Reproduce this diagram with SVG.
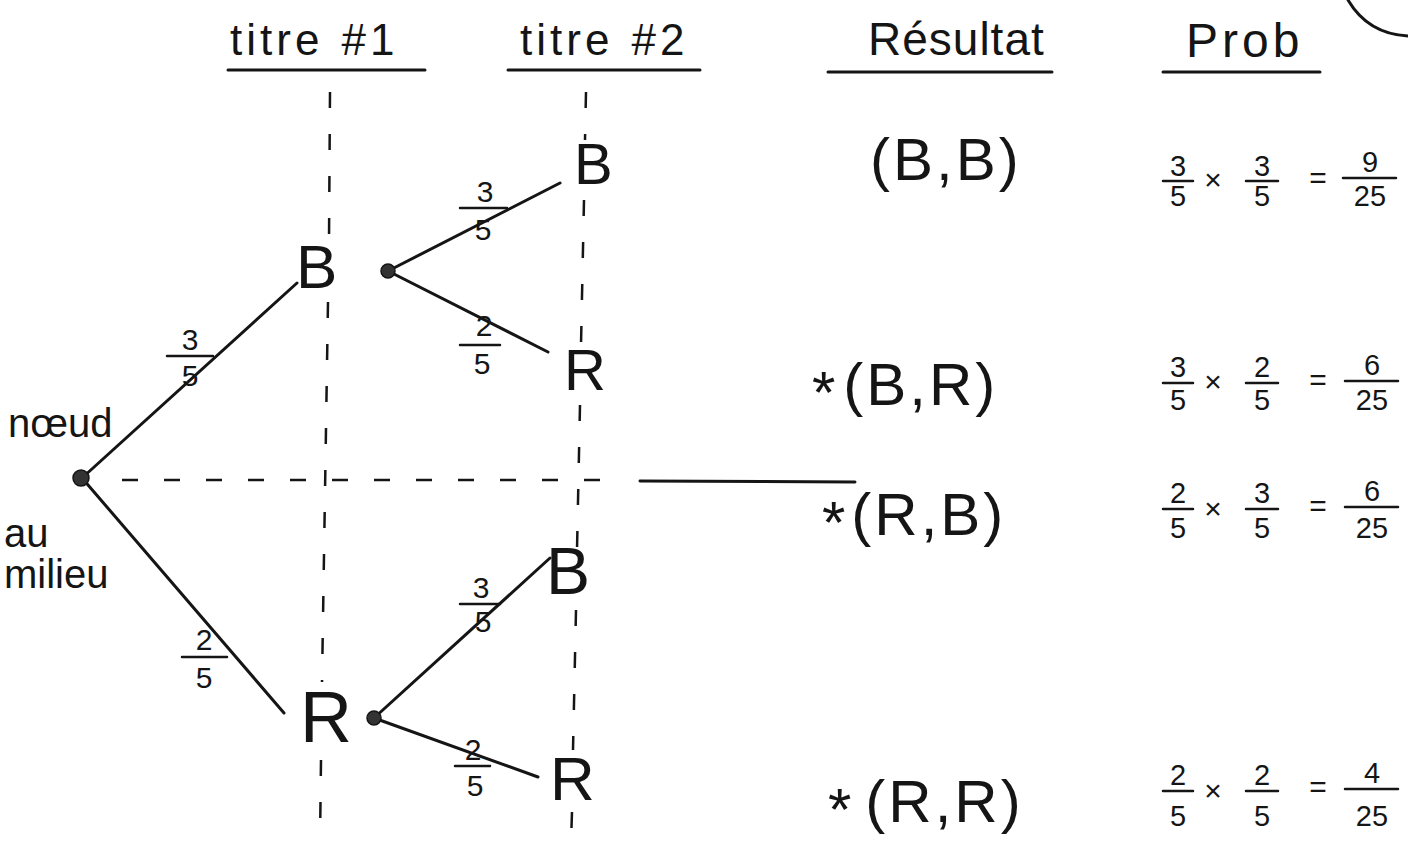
<svg xmlns="http://www.w3.org/2000/svg" width="1408" height="843" viewBox="0 0 1408 843">
<defs>
<style>
text{font-family:"Liberation Sans","DejaVu Sans",sans-serif;fill:#151515}
.hd{font-size:44px;letter-spacing:4px}
.nd{font-size:62px}
.res{font-size:60px;letter-spacing:3px}
.star{font-size:60px}
.fr{font-size:29px;text-anchor:middle}
.op{font-size:30px;text-anchor:middle}
.bl{font-size:30px;text-anchor:middle}
.side{font-size:40px}
.ln{stroke:#151515;stroke-width:3;stroke-linecap:round;fill:none}
.fl{stroke:#151515;stroke-width:2.5;stroke-linecap:round}
.dash{stroke:#151515;stroke-width:2.5;stroke-dasharray:16 26;fill:none}
.dot{fill:#333;stroke:#151515;stroke-width:1.5}
</style>
</defs>
<rect width="1408" height="843" fill="#ffffff"/>

<g id="headers">
<text class="hd" x="230" y="55">titre <tspan dx="2">#1</tspan></text>
<line class="ln" x1="228" y1="70" x2="425" y2="70"/>
<text class="hd" x="520" y="55">titre <tspan dx="2">#2</tspan></text>
<line class="ln" x1="508" y1="70" x2="700" y2="70"/>
<text class="hd" x="868" y="55" style="font-size:46px;letter-spacing:1px">Résultat</text>
<line class="ln" x1="828" y1="72" x2="1052" y2="72"/>
<text class="hd" x="1186" y="57" style="font-size:48px;letter-spacing:4px">Prob</text>
<line class="ln" x1="1163" y1="72" x2="1320" y2="72"/>
<path class="ln" d="M1348,0 Q1368,34 1408,36"/>
</g>

<g id="guides">
<line class="dash" x1="330" y1="92" x2="329" y2="240"/>
<line class="dash" x1="328" y1="302" x2="322" y2="682"/>
<line class="dash" x1="321" y1="760" x2="320" y2="843"/>
<line class="dash" x1="586" y1="92" x2="585" y2="140"/>
<line class="dash" x1="584" y1="200" x2="581" y2="345"/>
<line class="dash" x1="580" y1="405" x2="577" y2="550"/>
<line class="dash" x1="576" y1="610" x2="573" y2="750"/>
<line class="dash" x1="572" y1="812" x2="571" y2="843"/>
<line class="dash" x1="122" y1="480" x2="610" y2="480"/>
<line class="ln" x1="640" y1="481" x2="855" y2="482"/>
</g>

<g id="connectors">
<line class="ln" x1="82" y1="478" x2="297" y2="283"/>
<line class="ln" x1="82" y1="478" x2="284" y2="713"/>
<line class="ln" x1="388" y1="271" x2="560" y2="183"/>
<line class="ln" x1="388" y1="271" x2="548" y2="352"/>
<line class="ln" x1="374" y1="718" x2="550" y2="558"/>
<line class="ln" x1="374" y1="718" x2="538" y2="777"/>
</g>

<g id="branch-labels">
<text class="bl" x="190" y="350">3</text><line class="fl" x1="167" y1="356" x2="213" y2="356"/><text class="bl" x="190" y="386">5</text>
<text class="bl" x="204" y="650">2</text><line class="fl" x1="182" y1="657" x2="227" y2="657"/><text class="bl" x="204" y="688">5</text>
<text class="bl" x="485" y="202">3</text><line class="fl" x1="460" y1="208" x2="507" y2="208"/><text class="bl" x="483" y="240">5</text>
<text class="bl" x="484" y="336">2</text><line class="fl" x1="460" y1="345" x2="500" y2="345"/><text class="bl" x="482" y="374">5</text>
<text class="bl" x="481" y="598">3</text><line class="fl" x1="460" y1="604" x2="500" y2="604"/><text class="bl" x="483" y="632">5</text>
<text class="bl" x="473" y="760">2</text><line class="fl" x1="455" y1="766" x2="490" y2="766"/><text class="bl" x="475" y="796">5</text>
</g>

<g id="root">
<circle class="dot" cx="81" cy="478" r="8"/>
<text class="side" x="8" y="437">nœud</text>
<text class="side" x="4" y="547">au</text>
<text class="side" x="4" y="588">milieu</text>
</g>

<g id="node-B1">
<text class="nd" x="296" y="288">B</text>
<circle class="dot" cx="388" cy="271" r="7"/>
</g>
<g id="node-R1">
<text class="nd" x="300" y="742" style="font-size:72px">R</text>
<circle class="dot" cx="374" cy="718" r="7"/>
</g>
<g id="node-BB"><text class="nd" x="574" y="184" style="font-size:58px">B</text></g>
<g id="node-BR"><text class="nd" x="564" y="390" style="font-size:58px">R</text></g>
<g id="node-RB"><text class="nd" x="546" y="594" style="font-size:66px">B</text></g>
<g id="node-RR"><text class="nd" x="550" y="800" style="font-size:62px">R</text></g>

<g id="results">
<text class="res" x="870" y="180">(B,B)</text>
<text x="812" y="405"><tspan class="star" dy="8">*</tspan><tspan class="res" dx="8" dy="-8">(B,R)</tspan></text>
<text x="822" y="535"><tspan class="star" dy="8">*</tspan><tspan class="res" dx="6" dy="-8">(R,B)</tspan></text>
<text x="828" y="822"><tspan class="star" dy="8">*</tspan><tspan class="res" dx="14" dy="-8">(R,R)</tspan></text>
</g>

<g id="prob-1">
<text class="fr" x="1178" y="176">3</text><line class="fl" x1="1163" y1="181" x2="1193" y2="181"/><text class="fr" x="1178" y="206">5</text>
<text class="op" x="1213" y="190">×</text>
<text class="fr" x="1262" y="176">3</text><line class="fl" x1="1246" y1="181" x2="1278" y2="181"/><text class="fr" x="1262" y="206">5</text>
<text class="op" x="1318" y="188">=</text>
<text class="fr" x="1370" y="172">9</text><line class="fl" x1="1343" y1="178" x2="1396" y2="178"/><text class="fr" x="1370" y="206">25</text>
</g>
<g id="prob-2">
<text class="fr" x="1178" y="377">3</text><line class="fl" x1="1163" y1="383" x2="1193" y2="383"/><text class="fr" x="1178" y="410">5</text>
<text class="op" x="1213" y="392">×</text>
<text class="fr" x="1262" y="377">2</text><line class="fl" x1="1246" y1="383" x2="1278" y2="383"/><text class="fr" x="1262" y="410">5</text>
<text class="op" x="1318" y="390">=</text>
<text class="fr" x="1372" y="375">6</text><line class="fl" x1="1345" y1="381" x2="1398" y2="381"/><text class="fr" x="1372" y="410">25</text>
</g>
<g id="prob-3">
<text class="fr" x="1178" y="503">2</text><line class="fl" x1="1163" y1="509" x2="1193" y2="509"/><text class="fr" x="1178" y="538">5</text>
<text class="op" x="1213" y="519">×</text>
<text class="fr" x="1262" y="503">3</text><line class="fl" x1="1246" y1="509" x2="1278" y2="509"/><text class="fr" x="1262" y="538">5</text>
<text class="op" x="1318" y="516">=</text>
<text class="fr" x="1372" y="501">6</text><line class="fl" x1="1345" y1="507" x2="1398" y2="507"/><text class="fr" x="1372" y="538">25</text>
</g>
<g id="prob-4">
<text class="fr" x="1178" y="785">2</text><line class="fl" x1="1163" y1="791" x2="1193" y2="791"/><text class="fr" x="1178" y="826">5</text>
<text class="op" x="1213" y="801">×</text>
<text class="fr" x="1262" y="785">2</text><line class="fl" x1="1246" y1="791" x2="1278" y2="791"/><text class="fr" x="1262" y="826">5</text>
<text class="op" x="1318" y="797">=</text>
<text class="fr" x="1372" y="783">4</text><line class="fl" x1="1345" y1="789" x2="1398" y2="789"/><text class="fr" x="1372" y="826">25</text>
</g>
</svg>
